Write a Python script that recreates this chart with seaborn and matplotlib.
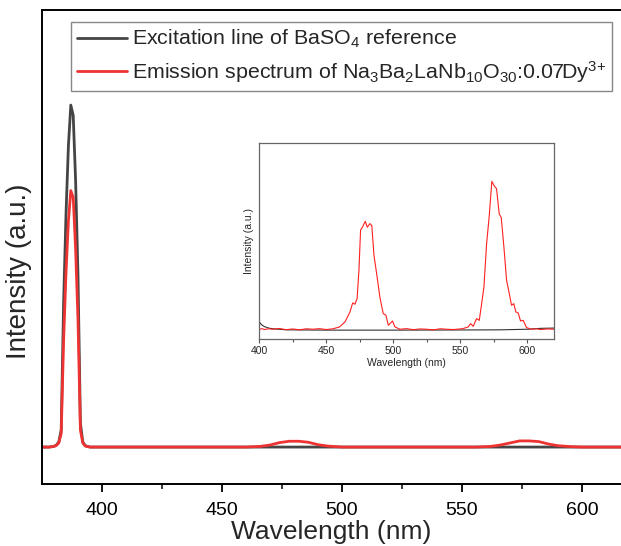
import numpy as np
import pandas as pd
import matplotlib
matplotlib.use("Agg")
import matplotlib.pyplot as plt
import seaborn as sns

# main panel: excitation line of BaSO4 and emission of the phosphor
main_wl = [375, 378, 380, 381, 382, 383, 384, 385, 386, 387, 388, 389, 390, 391, 392, 393, 395,
           400, 420, 440, 460, 466, 470, 474, 478, 482, 486, 490, 494, 500, 520, 540, 556,
           562, 566, 570, 574, 578, 582, 586, 590, 596, 600, 610, 620]
main_exc = [0, 0, 0.002, 0.006, 0.015, 0.05, 0.42, 0.68, 0.88, 1.0, 0.97, 0.78, 0.5, 0.07, 0.015, 0.004, 0,
            0, 0, 0, 0, 0, 0, 0, 0, 0, 0, 0, 0, 0, 0, 0, 0,
            0, 0, 0, 0, 0, 0, 0, 0, 0, 0, 0, 0]
main_em = [0, 0, 0.002, 0.005, 0.012, 0.04, 0.31, 0.51, 0.66, 0.75, 0.73, 0.58, 0.37, 0.05, 0.012, 0.003, 0,
           0, 0, 0, 0, 0.002, 0.006, 0.013, 0.017, 0.017, 0.014, 0.007, 0.003, 0, 0, 0, 0,
           0.002, 0.006, 0.012, 0.018, 0.018, 0.016, 0.009, 0.004, 0.001, 0, 0, 0]

# inset: zoom on the Dy3+ emission bands
inset_wl = [400, 402, 404, 407, 410, 415, 420, 425, 430, 435, 440, 445, 450, 455, 460, 464, 467.7,
            469.7, 471.4, 473, 474.4, 475.6, 477, 479.1, 480.6, 482.6, 484, 485.6, 487.6, 490,
            492.5, 494.5, 496.3, 499.5, 501.2, 505, 510, 515, 520, 525, 530, 535, 540, 545, 552,
            556, 557.7, 559.7, 562.2, 564.2, 566, 567.7, 569.7, 571.6, 573.6, 575.1, 577.1, 579.1,
            580.6, 582.6, 584.6, 586.6, 588.3, 590, 591.5, 593.3, 595, 597, 599.5, 603.2, 607,
            610, 615, 620]
inset_em = [0, 0.004, -0.002, 0.003, 0.0, 0.005, -0.003, 0.002, -0.004, 0.003, 0.0, 0.004, -0.002, 0.003, 0.016, 0.05, 0.117,
            0.178, 0.169, 0.207, 0.4, 0.67, 0.69, 0.73, 0.69, 0.714, 0.70, 0.5, 0.376, 0.218,
            0.106, 0.095, 0.027, 0.056, 0.016, 0.0, 0.004, -0.003, 0.002, 0.0, -0.004, 0.003, 0.0, -0.002, 0.004,
            0.016, 0.038, 0.02, 0.072, 0.06, 0.173, 0.286, 0.58, 0.76, 1.0, 0.973, 0.95, 0.78,
            0.755, 0.556, 0.331, 0.241, 0.162, 0.173, 0.117, 0.11, 0.056, 0.06, 0.011, 0.0, 0.003,
            -0.002, 0.002, 0.0]
inset_exc_wl = [400, 401, 402, 404, 407, 410, 415, 420, 450, 500, 550, 580, 600, 610, 620]
inset_exc = [0.05, 0.038, 0.028, 0.017, 0.008, 0.003, 0.0, -0.004, -0.006, -0.006, -0.005, -0.004, 0.0, 0.006, 0.008]

sns.set_style("ticks")
plt.rcParams["font.family"] = ["Liberation Sans", "DejaVu Sans"]
plt.rcParams["mathtext.fontset"] = "custom"
plt.rcParams["mathtext.rm"] = "Liberation Sans"
plt.rcParams["mathtext.it"] = "Liberation Sans:italic"
plt.rcParams["mathtext.bf"] = "Liberation Sans:bold"

fig = plt.figure(figsize=(6.21, 5.46), dpi=100)
ax = fig.add_axes([42 / 621, 62 / 546, 1 - 42 / 621, 474 / 546])

exc_lbl = "Excitation line of BaSO$_4$ reference"
em_lbl = "Emission spectrum of Na$_3$Ba$_2$LaNb$_{10}$O$_{30}$:0.07Dy$^{3{+}}$"

df_main = pd.DataFrame({"wl": main_wl, "exc": main_exc, "em": main_em})
sns.lineplot(data=df_main, x="wl", y="exc", ax=ax, color="#454545", lw=2.0, label=exc_lbl)
sns.lineplot(data=df_main, x="wl", y="em", ax=ax, color="#ee3333", lw=2.0, label=em_lbl)

ax.set_xlim(375, 375 + 579 / 2.4)
ax.set_ylim(-0.108, 1.278)
ax.set_xticks([400, 450, 500, 550, 600])
ax.set_xticks([425, 475, 525, 575], minor=True)
ax.set_yticks([])
ax.tick_params(axis="x", which="major", direction="out", length=6, width=1.3, labelsize=14, colors="black", pad=7)
ax.tick_params(axis="x", which="minor", direction="out", length=3.5, width=1.3)
for s in ["left", "bottom", "top"]:
    ax.spines[s].set_linewidth(1.4)
    ax.spines[s].set_color("black")
ax.spines["right"].set_visible(False)
ax.set_xlabel("Wavelength (nm)", fontsize=19, labelpad=1)
ax.set_ylabel("Intensity (a.u.)", fontsize=20)
ax.yaxis.set_label_coords(-0.018, 0.449)

leg = ax.legend(loc="upper left", bbox_to_anchor=(71 / 621, 1 - 22 / 546), bbox_transform=fig.transFigure,
                fontsize=15.4, frameon=True, fancybox=False, edgecolor="#888888", framealpha=1,
                handlelength=2.35, handletextpad=0.2, borderpad=0.28, labelspacing=0.4, borderaxespad=0)
leg.get_frame().set_linewidth(1.0)

# inset
ins = fig.add_axes([259.3 / 621, 206.7 / 546, 294.7 / 621, 196 / 546])
df_in = pd.DataFrame({"wl": inset_wl, "em": inset_em})
df_in_exc = pd.DataFrame({"wl": inset_exc_wl, "exc": inset_exc})
sns.lineplot(data=df_in_exc, x="wl", y="exc", ax=ins, color="#333333", lw=0.8)
sns.lineplot(data=df_in, x="wl", y="em", ax=ins, color="#ff2020", lw=0.8)
ins.set_xlim(400, 620)
ins.set_ylim(-0.068, 1.257)
ins.set_xticks([400, 450, 500, 550, 600])
ins.set_xticks([425, 475, 525, 575], minor=True)
ins.set_yticks([])
ins.tick_params(axis="x", which="major", direction="out", length=3, width=0.8, labelsize=7.5, pad=2, color="#555555")
ins.tick_params(axis="x", which="minor", direction="out", length=1.8, width=0.8, color="#555555")
for s in ins.spines.values():
    s.set_color("#666666")
    s.set_linewidth(0.9)
ins.set_xlabel("Wavelength (nm)", fontsize=7.5, labelpad=1)
ins.set_ylabel("Intensity (a.u.)", fontsize=7.5, labelpad=4)

fig.savefig("out.png", dpi=100)
